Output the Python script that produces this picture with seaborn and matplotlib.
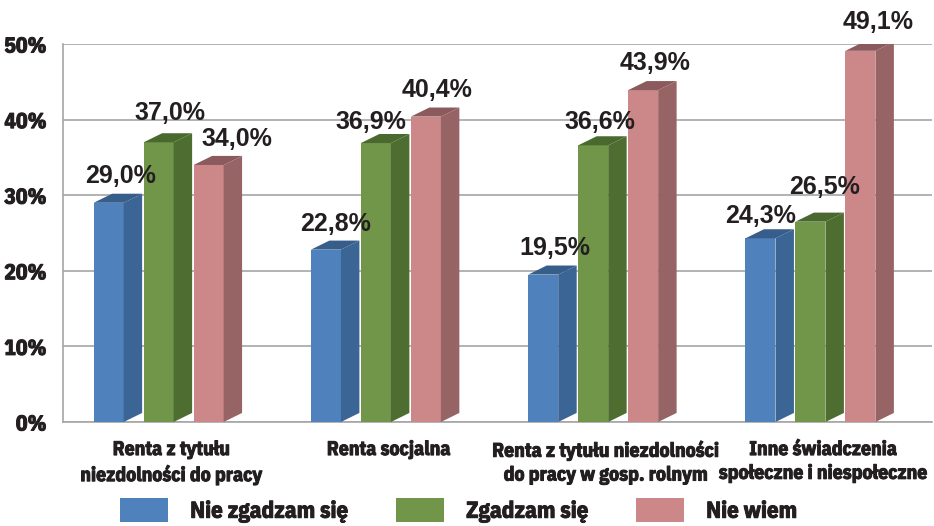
import numpy as np
import pandas as pd
import matplotlib
matplotlib.use("Agg")
import matplotlib.pyplot as plt
import matplotlib.patheffects as pe
from matplotlib.patches import Polygon, Patch
import seaborn as sns

# dane z wykresu
categories = [
    "Renta z tytułu\nniezdolności do pracy",
    "Renta socjalna",
    "Renta z tytułu niezdolności\ndo pracy w gosp. rolnym",
    "Inne świadczenia\nspołeczne i niespołeczne",
]
series = ["Nie zgadzam się", "Zgadzam się", "Nie wiem"]
nie_zgadzam = [29.0, 22.8, 19.5, 24.3]
zgadzam = [37.0, 36.9, 36.6, 26.5]
nie_wiem = [34.0, 40.4, 43.9, 49.1]
y_ticks = [0, 10, 20, 30, 40, 50]

front_colors = ["#4f81bd", "#71964a", "#cc8889"]
side_colors = ["#3b6594", "#4e6e31", "#976465"]
top_colors = ["#375d8a", "#4a692e", "#8b5a5c"]
text_color = "#231f20"
grid_color = "#a6a6a6"
narrow = ["IBM Plex Sans Condensed", "DejaVu Sans"]
heavy = [pe.withStroke(linewidth=0.7, foreground=text_color)]

# drobne przesunięcia etykiet (piksele), jak w oryginale
nudge_x = [[0, -2, 0, -11], [0, -16, -5, 3], [17, 0, 0, 6]]
nudge_y = [[0, -1, 0, -4], [3, -6, -3, 8], [-1, 0, 0, 2]]

rows = []
for name, vals in zip(series, [nie_zgadzam, zgadzam, nie_wiem]):
    for cat, v in zip(categories, vals):
        rows.append({"Kategoria": cat, "Odpowiedź": name, "Procent": v})
df = pd.DataFrame(rows)

sns.set_style("white")
plt.rcParams["font.family"] = narrow

fig = plt.figure(figsize=(9.34, 5.26), dpi=100)
ax = fig.add_axes([0.0675, 0.1977, 0.9305, 0.7186])

sns.barplot(
    data=df, x="Kategoria", y="Procent", hue="Odpowiedź",
    palette=front_colors, saturation=1, width=0.69, gap=0.4, ax=ax,
    legend=False, zorder=3, linewidth=0,
)

# efekt 3D: boki i wierzch słupków
dx, dy = 0.085, 1.2
all_vals = [nie_zgadzam, zgadzam, nie_wiem]
for j, cont in enumerate(ax.containers):
    for i, bar in enumerate(cont):
        x0 = bar.get_x()
        w = bar.get_width()
        h = bar.get_height()
        side = Polygon([(x0 + w, 0), (x0 + w + dx, dy), (x0 + w + dx, h + dy), (x0 + w, h)],
                       closed=True, facecolor=side_colors[j], edgecolor="none", zorder=3)
        top = Polygon([(x0, h), (x0 + w, h), (x0 + w + dx, h + dy), (x0 + dx, h + dy)],
                      closed=True, facecolor=top_colors[j], edgecolor="none", zorder=3)
        ax.add_patch(side)
        ax.add_patch(top)
        label = f"{all_vals[j][i]:.1f}%".replace(".", ",")
        ax.annotate(label, xy=(x0 + w / 2 + dx / 2 + 0.01, h + dy + 1.4),
                    xytext=(nudge_x[j][i], nudge_y[j][i]), textcoords="offset pixels",
                    ha="center", va="baseline", fontsize=18, fontweight="bold",
                    family=["Liberation Sans", "DejaVu Sans"], color=text_color,
                    annotation_clip=False, zorder=5)

shift = 0.06
ax.set_xlim(-0.5 + shift, 3.5 + shift)
ax.set_ylim(0, 50)
ax.set_xticks(np.arange(len(categories)) + shift, categories)
ax.set_xticks(np.arange(len(categories) + 1) - 0.5 + shift, minor=True)
ax.tick_params(axis="x", which="major", length=0, pad=13, labelsize=14.2,
               labelcolor=text_color)
ax.tick_params(axis="x", which="minor", length=6, width=1.2, color=grid_color,
               direction="out")
for t in ax.get_xticklabels():
    t.set_fontweight("bold")
    t.set_linespacing(1.32)
    t.set_path_effects(heavy)

ax.set_yticks(y_ticks, [f"{v}%" for v in y_ticks])
ax.tick_params(axis="y", length=7, width=1.2, color=grid_color, direction="out",
               pad=5, labelsize=15.5, labelcolor=text_color)
for t in ax.get_yticklabels():
    t.set_fontweight("bold")
    t.set_path_effects(heavy)

ax.yaxis.grid(True, color=grid_color, linewidth=1.2, zorder=0)
ax.set_axisbelow(True)
for s in ["top", "right"]:
    ax.spines[s].set_visible(False)
for s in ["left", "bottom"]:
    ax.spines[s].set_color(grid_color)
    ax.spines[s].set_linewidth(1.2)
ax.set_xlabel("")
ax.set_ylabel("")

handles = [Patch(facecolor=c, edgecolor="none") for c in front_colors]
leg = fig.legend(handles, series, loc="upper left", bbox_to_anchor=(0.1285, 0.053),
                 ncol=3, frameon=False, borderpad=0, borderaxespad=0,
                 handlelength=2.1, handleheight=1.22, handletextpad=0.96,
                 columnspacing=2.1,
                 prop={"family": narrow, "weight": "bold", "size": 16.5},
                 labelcolor=text_color)
for t in leg.get_texts():
    t.set_path_effects(heavy)

fig.savefig("out.png", dpi=100, facecolor="white")
